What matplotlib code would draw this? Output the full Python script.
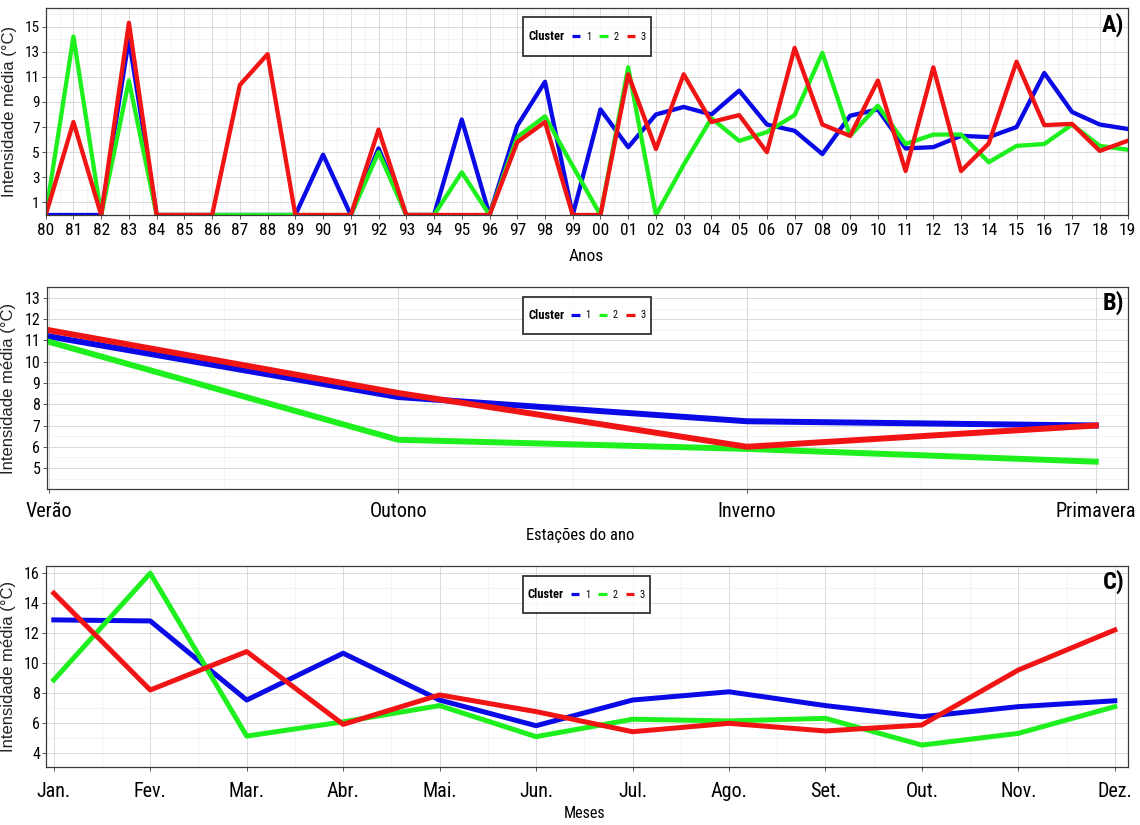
import matplotlib
matplotlib.use("Agg")
import matplotlib.pyplot as plt
from matplotlib import font_manager as fm
from matplotlib.font_manager import FontProperties
from matplotlib.lines import Line2D
from matplotlib.offsetbox import HPacker, DrawingArea
from matplotlib.ticker import MultipleLocator, FixedLocator

# ---------------- data ----------------
years = ["80", "81", "82", "83", "84", "85", "86", "87", "88", "89",
         "90", "91", "92", "93", "94", "95", "96", "97", "98", "99",
         "00", "01", "02", "03", "04", "05", "06", "07", "08", "09",
         "10", "11", "12", "13", "14", "15", "16", "17", "18", "19"]
annual_c1 = [0, 0, 0, 14.0, 0, 0, 0, 0, 0, 0,
             4.8, 0, 5.3, 0, 0, 7.6, 0, 7.1, 10.6, 0,
             8.4, 5.4, 8.0, 8.6, 8.0, 9.9, 7.2, 6.7, 4.85, 7.9,
             8.4, 5.3, 5.4, 6.3, 6.2, 7.0, 11.3, 8.2, 7.2, 6.85]
annual_c2 = [0, 14.2, 0, 10.7, 0, 0, 0, 0, 0, 0,
             0, 0, 5.0, 0, 0, 3.4, 0, 6.2, 7.85, 3.9,
             0, 11.75, 0, 4.0, 7.7, 5.9, 6.6, 7.95, 12.9, 6.3,
             8.7, 5.65, 6.4, 6.4, 4.2, 5.5, 5.65, 7.2, 5.5, 5.2]
annual_c3 = [0, 7.4, 0, 15.3, 0, 0, 0, 10.35, 12.8, 0,
             0, 0, 6.8, 0, 0, 0, 0, 5.8, 7.4, 0,
             0, 11.2, 5.25, 11.2, 7.4, 7.95, 5.0, 13.3, 7.2, 6.3,
             10.7, 3.5, 11.75, 3.5, 5.7, 12.2, 7.15, 7.25, 5.1, 5.9]

seasons = ["Verão", "Outono", "Inverno", "Primavera"]
season_c1 = [11.19, 8.34, 7.2, 7.0]
season_c2 = [10.93, 6.33, 5.9, 5.3]
season_c3 = [11.48, 8.53, 6.0, 7.0]

months = ["Jan.", "Fev.", "Mar.", "Abr.", "Mai.", "Jun.",
          "Jul.", "Ago.", "Set.", "Out.", "Nov.", "Dez."]
month_c1 = [12.89, 12.82, 7.55, 10.67, 7.55, 5.84, 7.55, 8.1, 7.18, 6.44, 7.11, 7.5]
month_c2 = [8.89, 16.0, 5.15, 6.1, 7.18, 5.11, 6.27, 6.16, 6.33, 4.55, 5.33, 7.11]
month_c3 = [14.67, 8.22, 10.78, 5.93, 7.89, 6.78, 5.44, 6.0, 5.49, 5.89, 9.55, 12.22]

cluster_labels = ["1", "2", "3"]
cluster_colors = ["#0a0ae6", "#1ef01e", "#f01414"]

# ---------------- fonts ----------------
CONDENSED = ("condensed", "semi-condensed", "extra-condensed", "ultra-condensed")
PREFERRED = ["liberation sans narrow", "arial narrow", "roboto condensed",
             "open sans condensed", "noto sans", "dejavu sans"]


def _weight(f):
    w = f.weight
    if isinstance(w, str):
        w = fm.weight_dict.get(w, 400)
    return w


def find_narrow(bold=False):
    best, best_key = None, None
    for f in fm.fontManager.ttflist:
        tag = (f.name + " " + f.fname).lower()
        narrow = (f.stretch in CONDENSED or "narrow" in tag or "condensed" in tag)
        if not narrow or f.style != "normal":
            continue
        if "mono" in tag or "serif" in tag.replace("sans serif", ""):
            continue
        wdiff = abs(_weight(f) - (700 if bold else 400))
        name = f.name.lower()
        rank = PREFERRED.index(name) if name in PREFERRED else len(PREFERRED)
        semi = 1 if f.stretch == "semi-condensed" else 0
        key = (rank, wdiff, semi)
        if best_key is None or key < best_key:
            best, best_key = f, key
    return best.fname if best is not None else None


NARROW_FILE = find_narrow(False)
NARROW_BOLD_FILE = find_narrow(True)


def nfont(size, bold=False):
    path = NARROW_BOLD_FILE if bold else NARROW_FILE
    if path:
        return FontProperties(fname=path, size=size)
    return FontProperties(family=["Liberation Sans", "DejaVu Sans"], size=size * 0.85,
                          weight="bold" if bold else "normal")


REGULAR = ["Liberation Sans", "DejaVu Sans"]
plt.rcParams["font.family"] = REGULAR

fig = plt.figure(figsize=(11.4, 8.25), dpi=100)
fig.patch.set_facecolor("white")

W, H = 1140, 825


def add_axes_px(left, top, right, bottom):
    return fig.add_axes([left / W, 1 - bottom / H, (right - left) / W, (bottom - top) / H])


def style_axes(ax, xtick_size, xpad, ytick_size):
    for s in ax.spines.values():
        s.set_color("#3a3a3a")
        s.set_linewidth(0.9)
    ax.grid(which="major", color="#d9d9d9", linewidth=0.7)
    ax.grid(which="minor", color="#eeeeee", linewidth=0.5)
    ax.set_axisbelow(True)
    ax.tick_params(axis="x", which="major", length=3, width=0.7, color="#555555",
                   pad=xpad, labelcolor="black")
    ax.tick_params(axis="y", which="major", length=3, width=0.7, color="#555555",
                   pad=1.5, labelcolor="black")
    ax.tick_params(which="minor", length=0)
    for lbl in ax.get_xticklabels():
        lbl.set_fontproperties(nfont(xtick_size))
    for lbl in ax.get_yticklabels():
        lbl.set_fontproperties(nfont(ytick_size))


def add_legend(ax, anchor, height_pt):
    handles = [Line2D([], [], color=c, lw=2.3, solid_capstyle="butt") for c in cluster_colors]
    leg = ax.legend(handles, cluster_labels, title="Cluster", loc="upper center",
                    bbox_to_anchor=anchor, ncol=3, frameon=True, fancybox=False,
                    edgecolor="black", handlelength=0.8, handletextpad=0.55,
                    columnspacing=0.8, borderpad=0.5, prop=nfont(7.5),
                    title_fontproperties=nfont(9, bold=True))
    leg.get_frame().set_linewidth(1.3)
    # keep the title on the same row as the keys, with a taller box
    try:
        vbox = leg._legend_box
        title_box, handle_box = vbox.get_children()
        row = HPacker(pad=0, sep=5, align="center", children=[title_box, handle_box])
        spacer = DrawingArea(0, height_pt)
        vbox._children = [HPacker(pad=0, sep=0, align="center", children=[row, spacer])]
    except Exception:
        pass
    return leg


def y_title(ax, xfrac):
    ax.set_ylabel("Intensidade média (°C)", family=REGULAR, fontsize=12, color="#222222")
    ax.yaxis.set_label_coords(xfrac, 0.5)


def x_title(ax, text, size, xfrac, yfrac):
    ax.set_xlabel(text, fontproperties=nfont(size))
    ax.xaxis.set_label_coords(xfrac, yfrac)
    ax.xaxis.label.set_va("center")


def panel_tag(ax, text, yfrac):
    ax.text(0.997, yfrac, text, transform=ax.transAxes, ha="right", va="center",
            fontproperties=nfont(17.5, bold=True))


# ---------------- A) annual ----------------
axA = add_axes_px(45.7, 8.3, 1127.5, 215)
xa = list(range(len(years)))
for vals, col in zip([annual_c1, annual_c2, annual_c3], cluster_colors):
    axA.plot(xa, vals, color=col, lw=3.1)
axA.set_xlim(0, len(years) - 1)
axA.set_ylim(0, 16.45)
axA.xaxis.set_major_locator(FixedLocator(xa))
axA.set_xticklabels(years)
axA.xaxis.set_minor_locator(MultipleLocator(0.5))
axA.yaxis.set_major_locator(FixedLocator([1, 3, 5, 7, 9, 11, 13, 15]))
axA.yaxis.set_minor_locator(FixedLocator([2, 4, 6, 8, 10, 12, 14, 16]))
style_axes(axA, 12.5, 3.0, 11)
y_title(axA, -0.0265)
x_title(axA, "Anos", 12.5, 0.5, -0.202)
add_legend(axA, (0.5006, 0.9836), 21)
panel_tag(axA, "A)", 0.919)

# ---------------- B) seasonal ----------------
axB = add_axes_px(46.5, 287.3, 1127.7, 489.3)
xb = list(range(len(seasons)))
for vals, col in zip([season_c1, season_c2, season_c3], cluster_colors):
    axB.plot(xb, vals, color=col, lw=4.3)
axB.set_xlim(-0.008, 3.0916)
axB.set_ylim(4.0, 13.5)
axB.xaxis.set_major_locator(FixedLocator(xb))
axB.set_xticklabels(seasons)
axB.xaxis.set_minor_locator(FixedLocator([0.5, 1.5, 2.5]))
axB.yaxis.set_major_locator(FixedLocator(list(range(5, 14))))
axB.yaxis.set_minor_locator(FixedLocator([v + 0.5 for v in range(4, 13)]))
axB.set_yticklabels([str(v) for v in range(5, 14)])
style_axes(axB, 14.5, 6.0, 11.5)
y_title(axB, -0.028)
x_title(axB, "Estações do ano", 12, 0.494, -0.226)
add_legend(axB, (0.4997, 0.978), 19)
panel_tag(axB, "B)", 0.922)

# ---------------- C) monthly ----------------
axC = add_axes_px(46.2, 565.7, 1127.7, 767.3)
xc = list(range(len(months)))
for vals, col in zip([month_c1, month_c2, month_c3], cluster_colors):
    axC.plot(xc, vals, color=col, lw=3.6)
axC.set_xlim(-0.0788, 11.134)
axC.set_ylim(3.07, 16.5)
axC.xaxis.set_major_locator(FixedLocator(xc))
axC.set_xticklabels(months)
axC.xaxis.set_minor_locator(FixedLocator([i + 0.5 for i in range(11)]))
axC.yaxis.set_major_locator(FixedLocator([4, 6, 8, 10, 12, 14, 16]))
axC.yaxis.set_minor_locator(FixedLocator([5, 7, 9, 11, 13, 15]))
axC.set_yticklabels([str(v) for v in [4, 6, 8, 10, 12, 14, 16]])
style_axes(axC, 14.5, 7.5, 11.5)
y_title(axC, -0.028)
x_title(axC, "Meses", 11.5, 0.498, -0.227)
add_legend(axC, (0.4995, 0.974), 19)
panel_tag(axC, "C)", 0.92)

fig.savefig("out.png", dpi=100, facecolor="white")
